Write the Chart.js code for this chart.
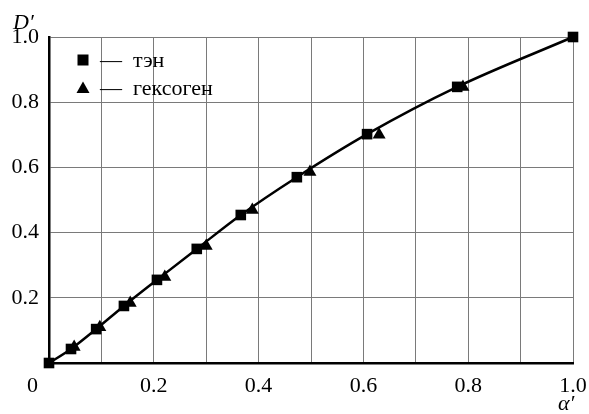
<!DOCTYPE html>
<html>
<head>
<meta charset="utf-8">
<script src="https://cdn.jsdelivr.net/npm/chart.js@4"></script>
<style>
  html, body { margin: 0; padding: 0; background: #fff; }
  #wrap { width: 589px; height: 414px; }
</style>
</head>
<body>
<div id="wrap"><canvas id="grafico" width="589" height="414"></canvas></div>
<script>
// Datos: alfa' (x) y D' (y)
const tenX = [0, 0.042, 0.09, 0.143, 0.206, 0.282, 0.366, 0.473, 0.607, 0.779, 1.0];
const tenY = [0, 0.043, 0.104, 0.175, 0.255, 0.35, 0.454, 0.57, 0.702, 0.847, 1.0];
const geksX = [0.048, 0.097, 0.155, 0.221, 0.30, 0.388, 0.498, 0.63, 0.79];
const geksY = [0.049, 0.11, 0.184, 0.264, 0.359, 0.469, 0.586, 0.70, 0.847];
const xTicks = [0, 0.2, 0.4, 0.6, 0.8, 1.0];
const yTicks = [0.2, 0.4, 0.6, 0.8, 1.0];
const nombres = ["тэн", "гексоген"];

const fuente = "'Liberation Serif', 'DejaVu Serif', serif";

const puntos = (xs, ys) => xs.map((x, i) => ({ x: x, y: ys[i] }));
const cerca = (v, lista) => lista.some(t => Math.abs(t - v) < 1e-6);

// Leyenda y titulos de ejes dibujados a mano
const extras = {
    id: "extras",
    afterDraw(chart) {
        const ctx = chart.ctx;
        const area = chart.chartArea;
        ctx.save();
        ctx.fillStyle = "#000";
        // titulos de ejes
        ctx.font = "italic 22px " + fuente;
        ctx.textAlign = "left";
        ctx.textBaseline = "alphabetic";
        ctx.fillText("D′", 13, 29);
        ctx.fillText("α′", 558, 410);

        // leyenda
        const lx = area.left + 34;
        const filas = [area.top + 23, area.top + 51];
        ctx.fillRect(lx - 5.5, filas[0] - 5.5, 11, 11);
        ctx.beginPath();
        ctx.moveTo(lx, filas[1] - 6.5);
        ctx.lineTo(lx + 6.5, filas[1] + 5);
        ctx.lineTo(lx - 6.5, filas[1] + 5);
        ctx.closePath();
        ctx.fill();
        ctx.font = "22px " + fuente;
        ctx.textBaseline = "middle";
        nombres.forEach((n, i) => {
            ctx.fillText("—  " + n, lx + 17, filas[i] + 1);
        });
        ctx.restore();
    }
};

new Chart(document.getElementById("grafico").getContext("2d"), {
    type: "scatter",
    data: {
        datasets: [
            {
                label: nombres[0],
                data: puntos(tenX, tenY),
                showLine: true,
                borderColor: "#000",
                backgroundColor: "#000",
                borderWidth: 2.5,
                cubicInterpolationMode: "monotone",
                pointStyle: "rect",
                pointRadius: 7.5,
                pointBorderWidth: 0,
                clip: false,
                order: 1
            },
            {
                label: nombres[1],
                data: puntos(geksX, geksY),
                showLine: false,
                borderColor: "#000",
                backgroundColor: "#000",
                pointStyle: "triangle",
                pointRadius: 7.5,
                pointBorderWidth: 0,
                clip: false,
                order: 0
            }
        ]
    },
    options: {
        responsive: false,
        animation: false,
        layout: { padding: { top: 37, right: 0, left: 0, bottom: 0 } },
        plugins: {
            legend: { display: false },
            tooltip: { enabled: false }
        },
        scales: {
            x: {
                type: "linear",
                min: 0,
                max: 1,
                ticks: {
                    stepSize: 0.1,
                    autoSkip: false,
                    maxRotation: 0,
                    padding: 10,
                    color: "#000",
                    font: { family: fuente, size: 22 },
                    // el "0" va un poco a la izquierda del eje, como en el original
                    callback: v => cerca(v, xTicks) ? (v === 0 ? "0\u2002\u2002\u2002" : v.toFixed(1)) : ""
                },
                grid: { color: "#7a7a7a", lineWidth: 1, drawTicks: false },
                border: { color: "#000", width: 2.5 },
                afterFit: s => { s.height = 51; s.paddingLeft = 0; s.paddingRight = 16; }
            },
            y: {
                type: "linear",
                min: 0,
                max: 1,
                ticks: {
                    stepSize: 0.2,
                    padding: 10,
                    color: "#000",
                    font: { family: fuente, size: 22 },
                    callback: v => cerca(v, yTicks) ? v.toFixed(1) : ""
                },
                grid: { color: "#7a7a7a", lineWidth: 1, drawTicks: false },
                border: { color: "#000", width: 2.5 },
                afterFit: s => { s.width = 49; s.paddingTop = 0; s.paddingBottom = 0; }
            }
        }
    },
    plugins: [extras]
});
</script>
</body>
</html>
